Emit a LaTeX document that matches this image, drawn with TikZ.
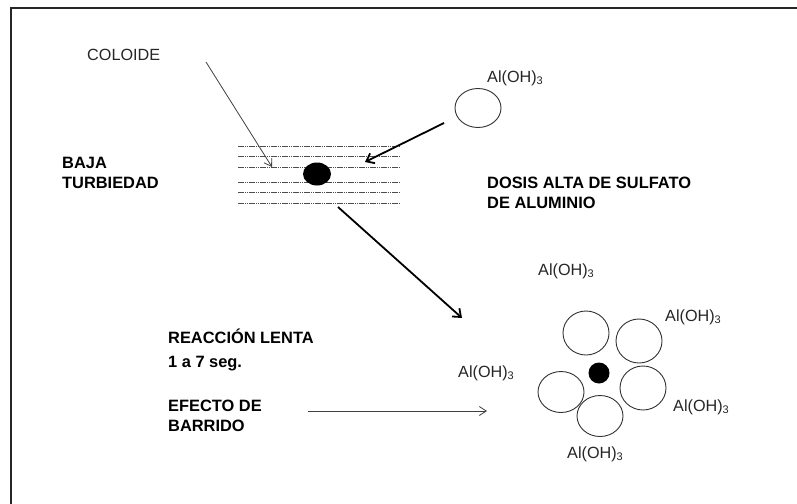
\documentclass[tikz,border=0pt]{standalone}
\usepackage{fontspec}
\setmainfont{Liberation Sans}
\usetikzlibrary{arrows.meta}
\newcommand\aloh{Al(OH)\raisebox{-2.5pt}{\fontsize{11}{11}\selectfont 3}}
\tikzset{
  lbl/.style={anchor=base west, inner sep=0pt, font=\fontsize{16.2}{19}\selectfont, text=black!85},
  blbl/.style={lbl, font=\fontsize{16.4}{19}\selectfont\bfseries, text=black},
  dotline/.style={draw=black!70, line width=0.7pt, dash pattern=on 1.6pt off 0.6pt},
  thinarrow/.style={draw=black!75, line width=0.8pt, -{Straight Barb[length=7pt,width=9pt]}},
  thickarrow/.style={draw=black, line width=1.8pt, -{Straight Barb[length=7pt,width=11pt]}},
  floc/.style={draw=black!80, line width=0.9pt},
}
\begin{document}
\begin{tikzpicture}[x=1pt,y=-1pt]
\useasboundingbox (0,0) rectangle (797,503);
\fill[white] (0,0) rectangle (797,503);
% frame
\draw[line width=1.4pt, black!85] (11,520) -- (11,8) -- (810,8);

% texts
\node[lbl] (coloide) at (87,60) {COLOIDE};
\node[blbl] (baja) at (62,168) {BAJA};
\node[blbl] (turb) at (62,188) {TURBIEDAD};
\node[lbl] (alTop) at (487,82) {\aloh};
\node[blbl] (dosis) at (487,188) {DOSIS ALTA DE SULFATO};
\node[blbl] (dealum) at (487,208) {DE ALUMINIO};
\node[blbl] (reac) at (168,343) {REACCIÓN LENTA};
\node[blbl] (seg) at (168,367) {1 a 7 seg.};
\node[blbl] (efecto) at (168,411) {EFECTO DE};
\node[blbl] (barrido) at (168,431) {BARRIDO};
\node[lbl] (alL) at (458,377) {\aloh};
\node[lbl] (alT) at (538,275) {\aloh};
\node[lbl] (alRT) at (665,321) {\aloh};
\node[lbl] (alRB) at (673,411) {\aloh};
\node[lbl] (alB) at (567,458) {\aloh};

% dotted water layers
\foreach \yy/\nm in {146/a,156/b,167/c,182/d,192/e,203/f}
  \draw[dotline] (238,\yy) coordinate (w\nm) -- (400,\yy) coordinate (we\nm);
\fill[black] (317,174) ellipse [x radius=14, y radius=11.5];
\coordinate (colloid) at (317,174);

% single Al(OH)3 particle
\draw[floc] (478,108) ellipse [x radius=23, y radius=19.5];
\coordinate (particle) at (478,108);

% floc cluster
\foreach \cx/\cy/\ry [count=\i] in {586/333/22, 639/341/22, 643/388/22, 561/392/20.5, 600/416/20.5}
  \draw[floc] (\cx,\cy) ellipse [x radius=23, y radius=\ry];
\fill[black] (599,373) circle [radius=10.5];

% arrow end points
\coordinate (c1) at (206,62);
\coordinate (c2) at (272,167);
\coordinate (p1) at (444,123);
\coordinate (p2) at (365,162);
\coordinate (d1) at (338,207);
\coordinate (d2) at (462,318);
\coordinate (e1) at (308,411);
\coordinate (e2) at (487,411);

\draw[thinarrow] (c1) -- (c2);
\draw[thickarrow] (p1) -- (p2);
\draw[thickarrow] (d1) -- (d2);
\draw[thinarrow] (e1) -- (e2);
\end{tikzpicture}
\end{document}
